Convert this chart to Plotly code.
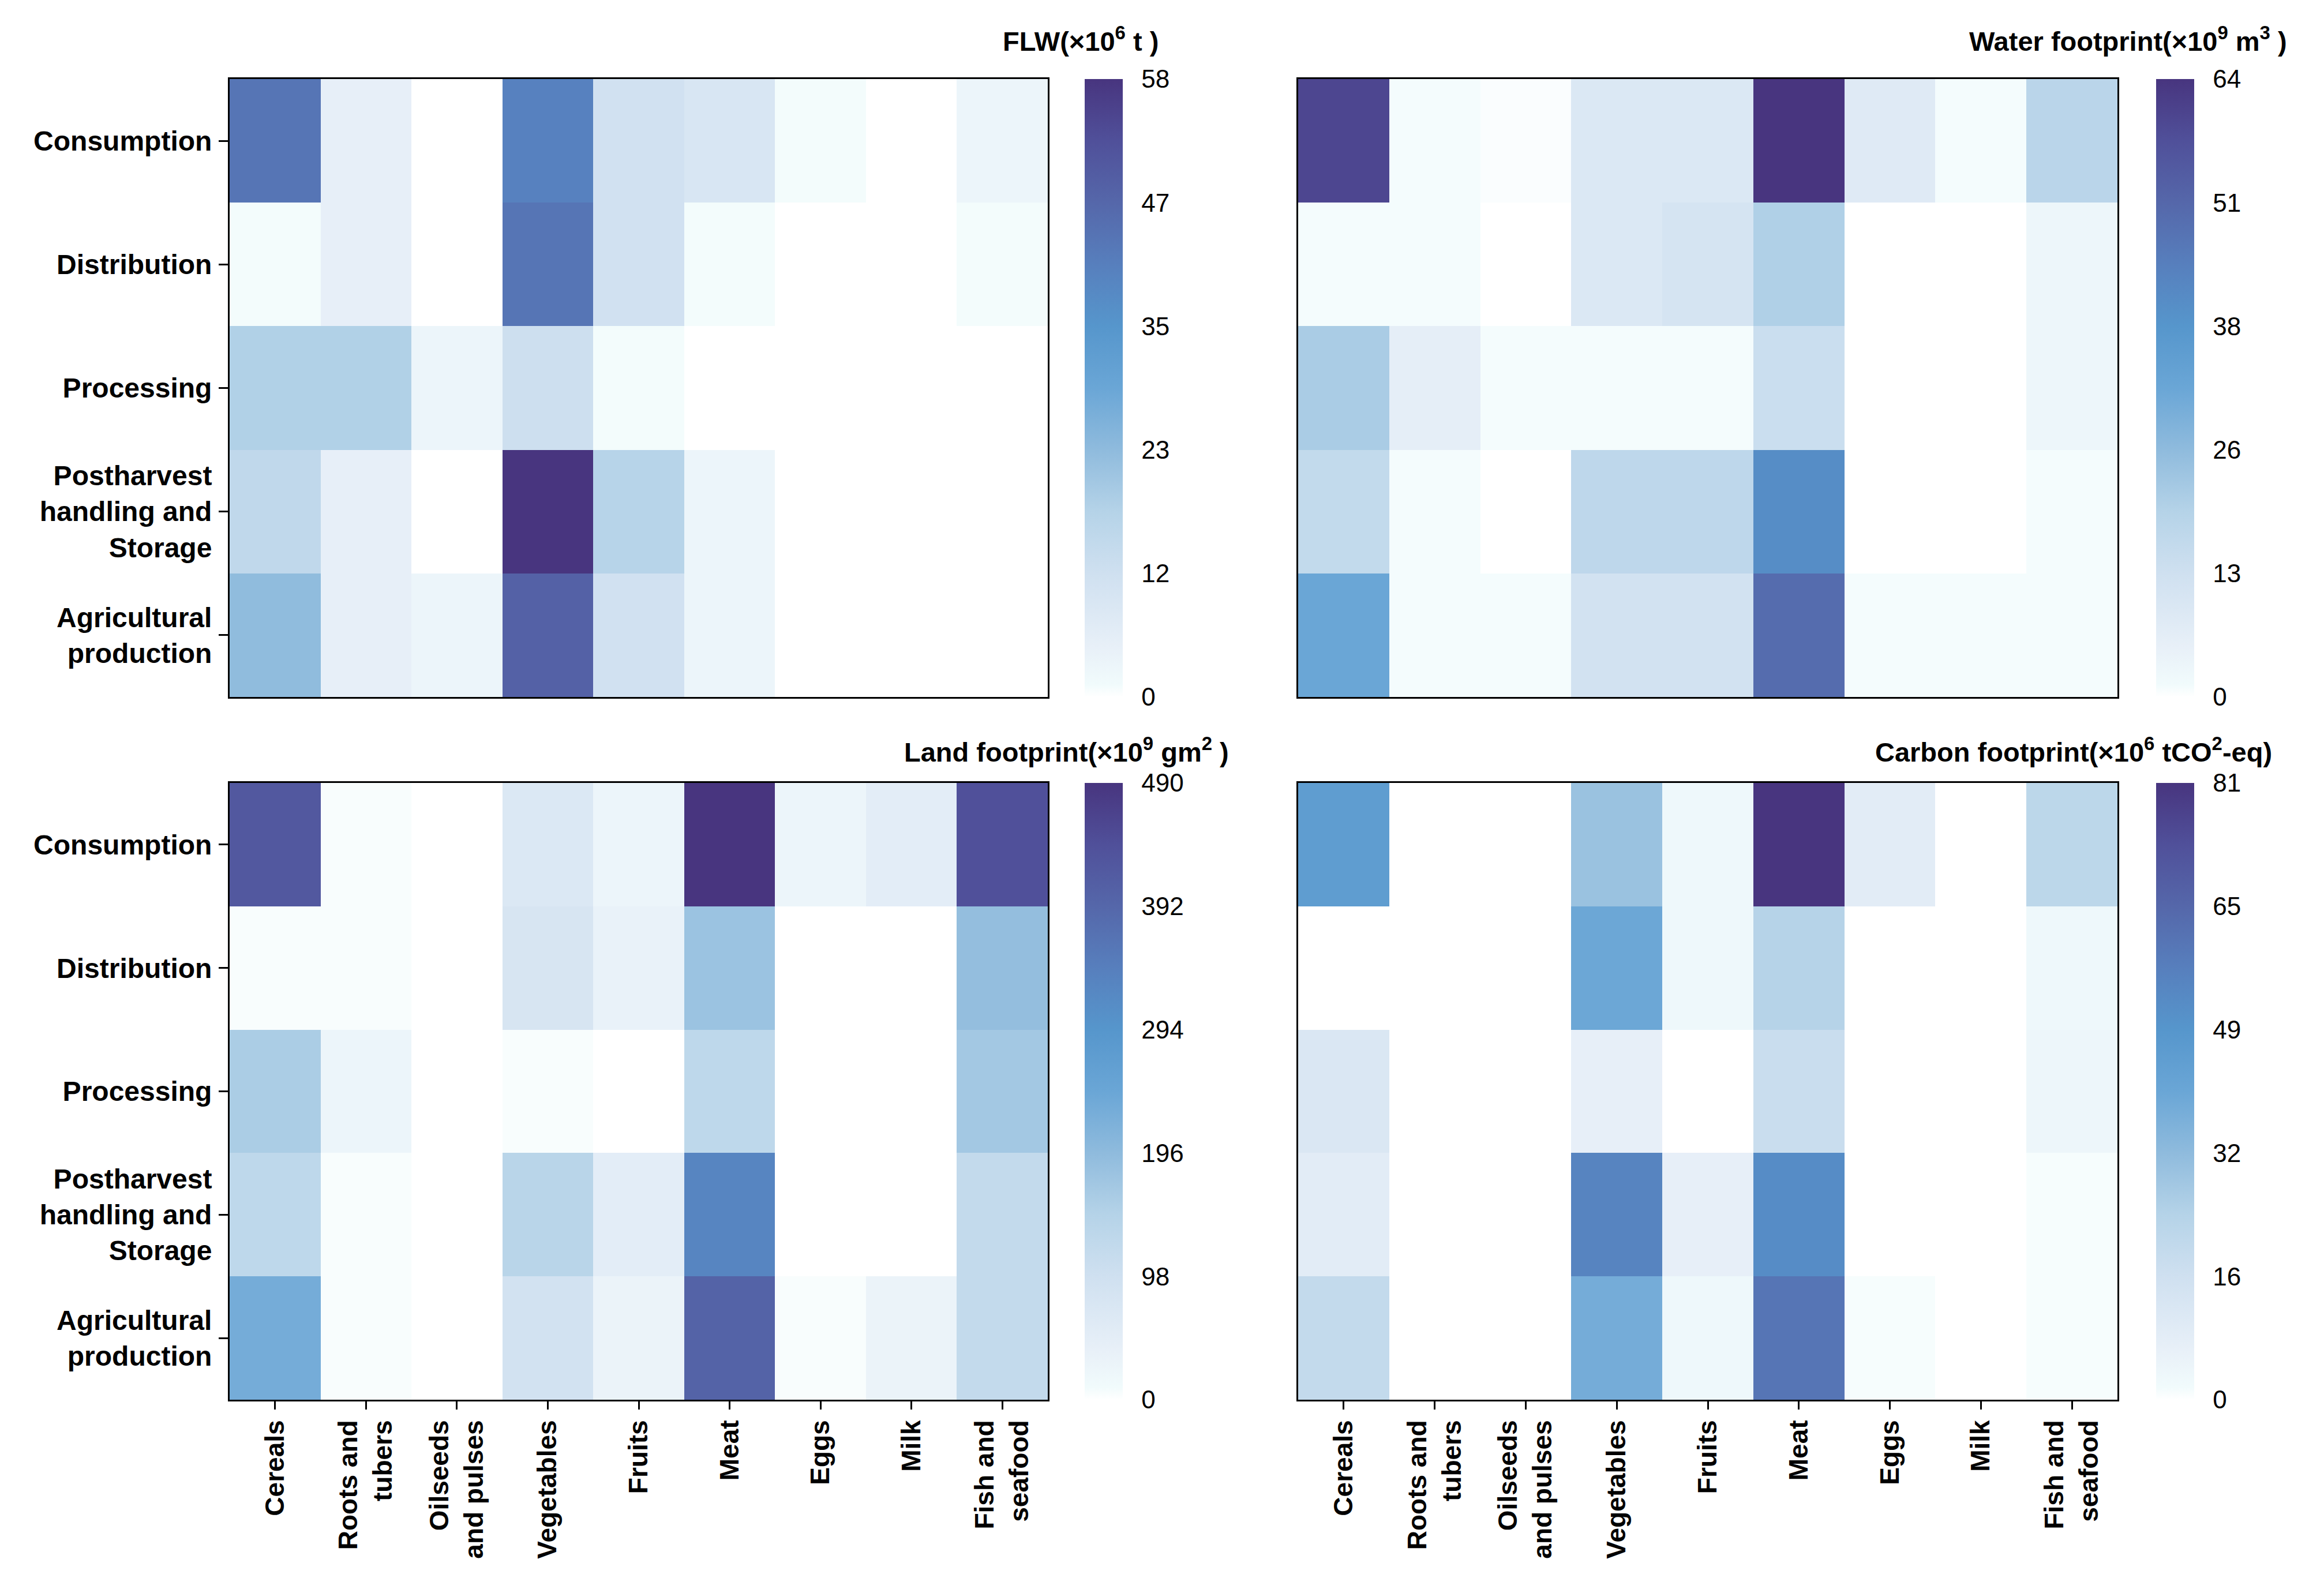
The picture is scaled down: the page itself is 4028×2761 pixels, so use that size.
import plotly.graph_objects as go

W, H = 4028, 2761

foods = ["Cereals", "Roots and<br>tubers", "Oilseeds<br>and pulses", "Vegetables", "Fruits",
         "Meat", "Eggs", "Milk", "Fish and<br>seafood"]
stages = ["Consumption", "Distribution", "Processing",
          "Postharvest<br>handling and<br>Storage", "Agricultural<br>production"]

# rows follow `stages` (top to bottom), columns follow `foods`
flw = [
    [43, 5, 0, 40, 11, 9, 1, 0, 3],
    [1, 5, 0, 43, 11, 1, 0, 0, 1],
    [18, 18, 3, 12, 1, 0, 0, 0, 0],
    [15, 5, 0, 58, 17, 3, 0, 0, 0],
    [23, 5, 3, 48, 11, 3, 0, 0, 0],
]
water = [
    [60, 1, 0.5, 9, 9, 64, 8, 1, 18],
    [1, 1, 0, 9, 11, 20, 0, 0, 3],
    [21, 6, 1, 1, 1, 14, 0, 0, 3],
    [16, 1, 0, 17, 17, 41, 0, 0, 1],
    [32, 1, 1, 12, 12, 50, 1, 1, 1],
]
land = [
    [425, 5, 0, 70, 25, 490, 25, 50, 440],
    [5, 5, 0, 80, 35, 180, 0, 0, 190],
    [160, 25, 0, 5, 0, 130, 0, 0, 170],
    [130, 5, 0, 140, 50, 330, 0, 0, 120],
    [230, 5, 0, 90, 30, 400, 5, 30, 120],
]
carbon = [
    [45, 0, 0, 30, 3, 81, 9, 0, 22],
    [0, 0, 0, 40, 3, 24, 0, 0, 3],
    [12, 0, 0, 7, 0, 18, 0, 0, 4],
    [9, 0, 0, 55, 7, 52, 0, 0, 1],
    [20, 0, 0, 38, 3, 60, 1, 0, 1],
]
maxima = [58, 64, 490, 81]
cbar_ticks = [
    ["0", "12", "23", "35", "47", "58"],
    ["0", "13", "26", "38", "51", "64"],
    ["0", "98", "196", "294", "392", "490"],
    ["0", "16", "32", "49", "65", "81"],
]
titles = [
    "FLW(×10<sup>6</sup> t )",
    "Water footprint(×10<sup>9</sup> m<sup>3</sup> )",
    "Land footprint(×10<sup>9</sup> gm<sup>2</sup> )",
    "Carbon footprint(×10<sup>6</sup> tCO<sup>2</sup>-eq)",
]

colorscale = [
    [0.00, "#ffffff"],
    [0.02, "#f1fbfc"],
    [0.08, "#e8f0f8"],
    [0.20, "#cfe0f0"],
    [0.30, "#b5d3e8"],
    [0.40, "#8fbbdd"],
    [0.50, "#6aa6d6"],
    [0.60, "#5696cc"],
    [0.70, "#577fbd"],
    [0.80, "#5567aa"],
    [0.90, "#50509a"],
    [1.00, "#48357f"],
]

FONT = "Liberation Sans"

# panel pixel boxes: (left, right, top, bottom)
boxes = [
    (398, 1816, 137, 1208),
    (2250, 3670, 137, 1208),
    (398, 1816, 1357, 2426),
    (2250, 3670, 1357, 2426),
]
cbar_left = [1880, 3737, 1880, 3737]
title_pos = [(2010, 68), (3966, 68), (2132, 1300), (3940, 1300)]

fig = go.Figure()
data = [flw, water, land, carbon]
xi = list(range(len(foods)))
yi = list(range(len(stages)))

for k in range(4):
    l, r, t, b = boxes[k]
    ax = "" if k == 0 else str(k + 1)
    vmax = maxima[k]
    fig.add_trace(go.Heatmap(
        z=data[k], x=xi, y=yi,
        xaxis="x" + ax, yaxis="y" + ax,
        zmin=0, zmax=vmax, colorscale=colorscale,
        colorbar=dict(
            x=cbar_left[k] / W, xanchor="left", xpad=0, ypad=0,
            y=1 - b / H, yanchor="bottom", len=(b - t) / H, lenmode="fraction",
            thickness=66, thicknessmode="pixels", outlinewidth=0,
            tickvals=[vmax * i / 5 for i in range(6)], ticktext=cbar_ticks[k],
            ticks="outside", ticklen=24, tickcolor="rgba(0,0,0,0)",
            tickfont=dict(family=FONT, size=44, color="black"),
        ),
        hoverinfo="skip",
    ))
    show_x = k >= 2
    show_y = k % 2 == 0
    fig.layout["xaxis" + ax] = dict(
        domain=[l / W, r / W], anchor="y" + ax,
        range=[-0.5, len(foods) - 0.5], tickvals=xi, ticktext=foods,
        showticklabels=show_x, ticks="outside" if show_x else "",
        ticklen=14, tickwidth=3, tickcolor="black", tickangle=-90,
        tickfont=dict(family=FONT, size=46, color="black", weight="bold"),
        ticklabelstandoff=0,
        showline=True, linecolor="black", linewidth=3, mirror=True,
        showgrid=False, zeroline=False, automargin=False, fixedrange=True,
    )
    fig.layout["yaxis" + ax] = dict(
        domain=[1 - b / H, 1 - t / H], anchor="x" + ax,
        range=[len(stages) - 0.5, -0.5], tickvals=yi, ticktext=stages,
        showticklabels=show_y, ticks="outside" if show_y else "",
        ticklen=16, tickwidth=3, tickcolor="black",
        tickfont=dict(family=FONT, size=48, color="black", weight="bold"),
        ticklabelstandoff=2,
        showline=True, linecolor="black", linewidth=3, mirror=True,
        showgrid=False, zeroline=False, automargin=False, fixedrange=True,
    )
    tx, ty = title_pos[k]
    fig.add_annotation(
        text=titles[k], x=tx / W, y=1 - ty / H, xref="paper", yref="paper",
        xanchor="right", yanchor="middle", showarrow=False,
        font=dict(family=FONT, size=47, color="black", weight="bold"),
    )

fig.update_layout(
    width=W, height=H, margin=dict(l=0, r=0, t=0, b=0),
    paper_bgcolor="white", plot_bgcolor="white", template="none",
    showlegend=False,
)

fig.write_html("out.html", config={"displayModeBar": False},
               post_script="document.body.style.margin='0px';")
